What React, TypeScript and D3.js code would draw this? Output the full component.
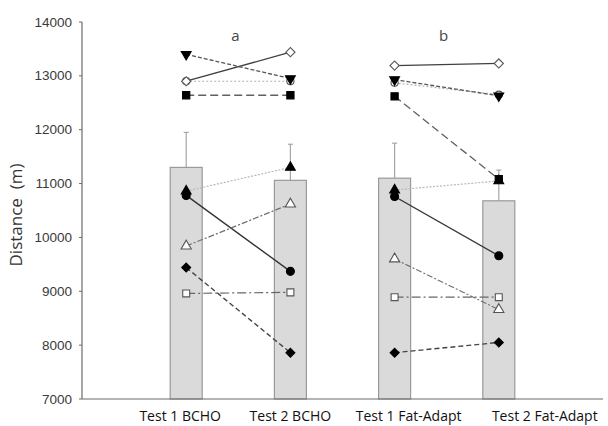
import * as d3 from "d3";

const categories = ["Test 1 BCHO", "Test 2 BCHO", "Test 1 Fat-Adapt", "Test 2 Fat-Adapt"];
const means = [11300, 11060, 11100, 10680];
const sds = [650, 670, 650, 570];
const yTicks = [7000, 8000, 9000, 10000, 11000, 12000, 13000, 14000];
const panelLabels = ["a", "b"];

// one row per subject: Test1 BCHO, Test2 BCHO, Test1 Fat-Adapt, Test2 Fat-Adapt
const subjectOpenCircle = [12900, 12900, 12870, 12650];
const subjectOpenDiamond = [12900, 13440, 13190, 13230];
const subjectDownTri = [13400, 12950, 12930, 12630];
const subjectSquare = [12640, 12640, 12620, 11080];
const subjectTri = [10860, 11300, 10880, 11050];
const subjectCircle = [10780, 9370, 10760, 9660];
const subjectOpenTri = [9840, 10620, 9600, 8660];
const subjectDiamond = [9440, 7860, 7860, 8050];
const subjectOpenSquare = [8960, 8980, 8890, 8890];

type Style = {
  values: number[];
  symbol: d3.SymbolType;
  size: number;
  rotate?: number;
  filled: boolean;
  stroke: string;
  dash: string;
  width: number;
};

const subjects: Style[] = [
  { values: subjectOpenCircle, symbol: d3.symbolCircle, size: 40, filled: false, stroke: "#b0b0b0", dash: "2,2", width: 1.2 },
  { values: subjectOpenDiamond, symbol: d3.symbolSquare, size: 42, rotate: 45, filled: false, stroke: "#404040", dash: "", width: 1.3 },
  { values: subjectDownTri, symbol: d3.symbolTriangle, size: 42, rotate: 180, filled: true, stroke: "#555", dash: "4,2", width: 1.3 },
  { values: subjectSquare, symbol: d3.symbolSquare, size: 52, filled: true, stroke: "#606060", dash: "8,4", width: 1.3 },
  { values: subjectTri, symbol: d3.symbolTriangle, size: 42, filled: true, stroke: "#b8b8b8", dash: "2,1.5", width: 1.2 },
  { values: subjectCircle, symbol: d3.symbolCircle, size: 50, filled: true, stroke: "#333", dash: "", width: 1.4 },
  { values: subjectOpenTri, symbol: d3.symbolTriangle, size: 45, filled: false, stroke: "#707070", dash: "6,2,2,2", width: 1.2 },
  { values: subjectDiamond, symbol: d3.symbolSquare, size: 40, rotate: 45, filled: true, stroke: "#444", dash: "5,3", width: 1.4 },
  { values: subjectOpenSquare, symbol: d3.symbolSquare, size: 48, filled: false, stroke: "#666", dash: "9,3,2,3", width: 1.2 },
];

export default function App() {
  const width = 608;
  const height = 426;
  const left = 82;
  const right = 603;
  const top = 22;
  const bottom = 399;
  const barW = 32;

  const x = d3.scalePoint<string>().domain(["_s", ...categories, "_e"]).range([left, right]);
  const y = d3.scaleLinear().domain([7000, 14000]).range([bottom, top]);
  const labelDx = [-6, 0, 14, 46];
  const font = "'Open Sans', 'DejaVu Sans', sans-serif";

  return (
    <svg width={width} height={height} style={{ position: "absolute", left: 0, top: 0, background: "#fff" }}>
      {/* bars */}
      {categories.map((c, i) => {
        const cx = x(c)!;
        return (
          <g key={c}>
            <line x1={cx} x2={cx} y1={y(means[i])} y2={y(means[i] + sds[i])} stroke="#a6a6a6" strokeWidth={1.2} />
            <line x1={cx - 2.5} x2={cx + 2.5} y1={y(means[i] + sds[i])} y2={y(means[i] + sds[i])} stroke="#a6a6a6" strokeWidth={1.2} />
            <rect x={cx - barW / 2} y={y(means[i])} width={barW} height={bottom - y(means[i])} fill="#dadada" stroke="#9a9a9a" strokeWidth={1.2} />
          </g>
        );
      })}
      {/* axes */}
      <line x1={left} x2={left} y1={top} y2={bottom} stroke="#6a6a6a" strokeWidth={1.2} />
      <line x1={left} x2={right} y1={bottom} y2={bottom} stroke="#6a6a6a" strokeWidth={1.2} />
      {yTicks.map((t) => (
        <g key={t}>
          <line x1={left - 3} x2={left} y1={y(t)} y2={y(t)} stroke="#6a6a6a" />
          <text x={left - 10} y={y(t)} textAnchor="end" dominantBaseline="central" fontFamily="'Liberation Sans', Arial, sans-serif" fontSize={13.5} fill="#3a3a3a">
            {t}
          </text>
        </g>
      ))}
      <text transform={`translate(15,215) rotate(-90)`} textAnchor="middle" dominantBaseline="central" fontFamily={font} fontSize={17} fill="#333">
        {"Distance\u00a0 (m)"}
      </text>
      {categories.map((c, i) => (
        <text key={c} x={x(c)! + labelDx[i]} y={421} textAnchor="middle" fontFamily={font} fontSize={14} fontWeight={500} fill="#111">
          {c}
        </text>
      ))}
      {panelLabels.map((l, p) => (
        <text key={l} x={(x(categories[p * 2])! + x(categories[p * 2 + 1])!) / 2 - 3} y={35} textAnchor="middle" dominantBaseline="central" fontFamily={font} fontSize={15} fill="#444">
          {l}
        </text>
      ))}
      {/* subject lines */}
      {subjects.map((s, k) =>
        [0, 1].map((p) => (
          <line
            key={`${k}-${p}`}
            x1={x(categories[p * 2])}
            x2={x(categories[p * 2 + 1])}
            y1={y(s.values[p * 2])}
            y2={y(s.values[p * 2 + 1])}
            stroke={s.stroke}
            strokeWidth={s.width}
            strokeDasharray={s.dash || undefined}
          />
        ))
      )}
      {/* markers */}
      {subjects.map((s, k) =>
        s.values.map((v, i) => (
          <path
            key={`${k}-${i}`}
            d={d3.symbol().type(s.symbol).size(s.size)()!}
            transform={`translate(${x(categories[i])},${y(v)}) rotate(${s.rotate || 0})`}
            fill={s.filled ? "#000" : "#fff"}
            stroke={s.filled ? "#000" : "#555"}
            strokeWidth={1.1}
          />
        ))
      )}
    </svg>
  );
}
